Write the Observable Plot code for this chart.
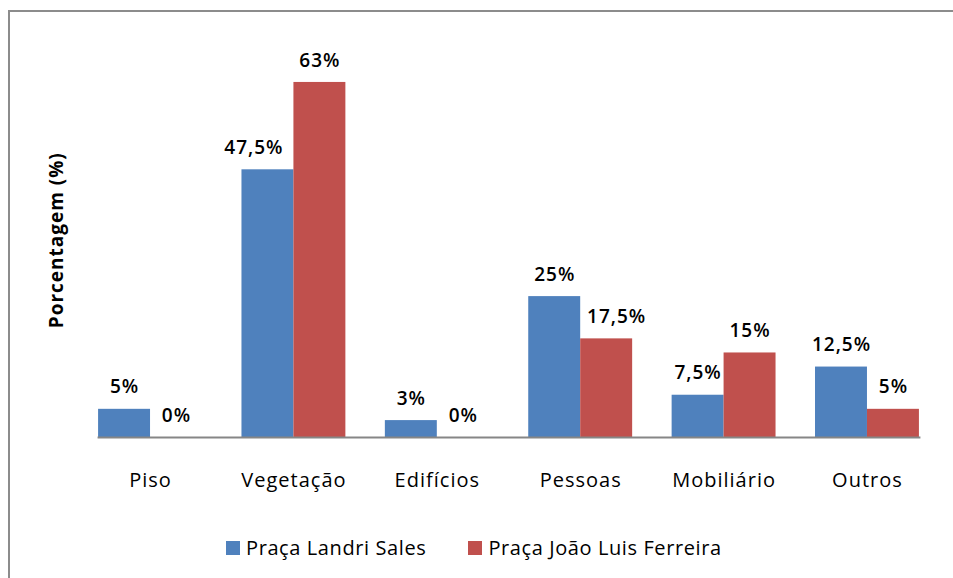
<!DOCTYPE html>
<html>
<head>
<meta charset="utf-8">
<script src="https://cdn.jsdelivr.net/npm/d3@7"></script>
<script src="https://cdn.jsdelivr.net/npm/@observablehq/plot@0.6"></script>
<style>
  html, body { margin: 0; padding: 0; background: #fff; overflow: hidden; }
  #wrap { position: relative; width: 953px; height: 578px; overflow: hidden; font-family: "Open Sans", "Noto Sans", sans-serif; }
  #topline { position: absolute; left: 8px; top: 10px; width: 945px; height: 2px; background: #8c8c8c; }
  #leftline { position: absolute; left: 8px; top: 10px; width: 2px; height: 568px; background: #8c8c8c; }
  #chart { position: absolute; left: 0; top: 0; }
  #chart svg text { letter-spacing: 1px; }
  #legend { position: absolute; top: 534px; left: 226px; display: flex; align-items: center; font-size: 20px; letter-spacing: 0.6px; color: #000; white-space: nowrap; }
  .item { display: flex; align-items: center; margin-right: 42px; }
  .sw { width: 14px; height: 14px; display: inline-block; margin-right: 6px; }
</style>
</head>
<body>
<div id="wrap">
  <div id="topline"></div>
  <div id="leftline"></div>
  <div id="chart"></div>
  <div id="legend"></div>
</div>
<script>
const categories = ["Piso", "Vegetação", "Edifícios", "Pessoas", "Mobiliário", "Outros"];
const seriesNames = ["Praça Landri Sales", "Praça João Luis Ferreira"];
const landriSales = [5, 47.5, 3, 25, 7.5, 12.5];
const joaoLuis = [0, 63, 0, 17.5, 15, 5];
const valueLabelsLandri = ["5%", "47,5%", "3%", "25%", "7,5%", "12,5%"];
const valueLabelsJoao = ["0%", "63%", "0%", "17,5%", "15%", "5%"];
const yTitle = ["Porcentagem (%)"];
const colors = ["#4F81BD", "#C0504D"];

const data = [];
categories.forEach((c, i) => {
  data.push({cat: c, series: seriesNames[0], value: landriSales[i], label: valueLabelsLandri[i]});
  data.push({cat: c, series: seriesNames[1], value: joaoLuis[i], label: valueLabelsJoao[i]});
});

// Excel nudged two labels sideways to avoid overlapping the neighbouring bar
const nudgeLeft = d => d.cat === "Vegetação" && d.series === seriesNames[0];
const nudgeRight = d => d.cat === "Pessoas" && d.series === seriesNames[1];
const plain = d => !nudgeLeft(d) && !nudgeRight(d);
const labelStyle = {fx: "cat", x: "series", y: "value", text: "label", dy: -22, lineAnchor: "middle", fontSize: 19, fontWeight: 600};

const chart = Plot.plot({
  width: 953,
  height: 520,
  marginLeft: 77,
  marginRight: 13,
  marginTop: 42.5,
  marginBottom: 83,
  style: {background: "transparent", fontFamily: "'Open Sans', 'Noto Sans', sans-serif", color: "#000"},
  fx: {domain: categories, paddingInner: 0.2753, paddingOuter: 0.147, round: false, label: null},
  x: {domain: seriesNames, padding: 0, round: false, axis: null},
  y: {domain: [0, 70], axis: null},
  color: {domain: seriesNames, range: colors},
  marks: [
    Plot.barY(data, {fx: "cat", x: "series", y: "value", fill: "series"}),
    Plot.axisFx({anchor: "bottom", tickSize: 0, tickPadding: 35, fontSize: 20, label: null}),
    Plot.text(yTitle, {text: d => d, frameAnchor: "left", textAnchor: "middle", rotate: -90, dx: -42, dy: 0, lineAnchor: "middle", fontSize: 19, fontWeight: "bold", facet: "super"}),
    Plot.frame({anchor: "bottom", facet: "super", stroke: "#868686", strokeWidth: 2}),
    Plot.text(data, {...labelStyle, filter: plain}),
    Plot.text(data, {...labelStyle, filter: nudgeLeft, dx: -14}),
    Plot.text(data, {...labelStyle, filter: nudgeRight, dx: 10})
  ]
});
document.getElementById("chart").appendChild(chart);

const legend = document.getElementById("legend");
seriesNames.forEach((s, i) => {
  const item = document.createElement("div");
  item.className = "item";
  const sw = document.createElement("span");
  sw.className = "sw";
  sw.style.background = colors[i];
  item.appendChild(sw);
  item.appendChild(document.createTextNode(s));
  legend.appendChild(item);
});
</script>
</body>
</html>
